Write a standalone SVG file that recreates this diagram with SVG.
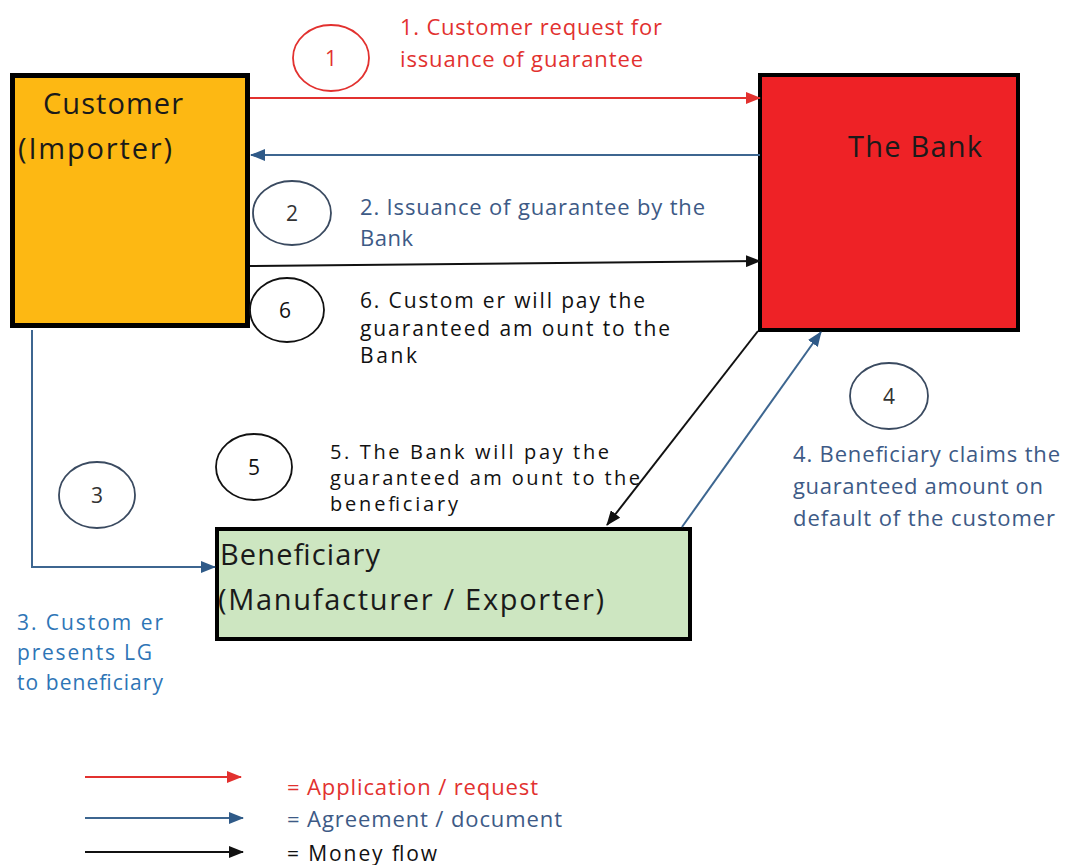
<svg xmlns="http://www.w3.org/2000/svg" width="1066" height="865" viewBox="0 0 1066 865">
<style>
text{font-family:"Open Sans","Liberation Sans",sans-serif;}
.red{fill:#E2312F;font-size:22px;}
.blue{fill:#3D5A86;font-size:22px;}
.lblue{fill:#2E75B6;font-size:21px;}
.blk{fill:#111;font-size:21px;}
.tight{font-size:20px;}
.num{font-size:21px;text-anchor:middle;}
.node{font-size:29px;fill:#1a1a1a;}
.rl{stroke:#E2312F;stroke-width:2;fill:none;}
.bl{stroke:#3D6690;stroke-width:2;fill:none;}
.kl{stroke:#111;stroke-width:2;fill:none;}
.circ{fill:none;stroke-width:1.8;}
</style>
<defs>
<marker id="ar" markerWidth="15" markerHeight="12" refX="14" refY="6" orient="auto" markerUnits="userSpaceOnUse"><path d="M0,0 L15,6 L0,12 Z" fill="#E2312F"/></marker>
<marker id="ab" markerWidth="15" markerHeight="12" refX="14" refY="6" orient="auto" markerUnits="userSpaceOnUse"><path d="M0,0 L15,6 L0,12 Z" fill="#2F5A88"/></marker>
<marker id="ak" markerWidth="15" markerHeight="12" refX="14" refY="6" orient="auto" markerUnits="userSpaceOnUse"><path d="M0,0 L15,6 L0,12 Z" fill="#111"/></marker>
</defs>
<rect width="1066" height="865" fill="#fff"/>

<g id="customer">
<rect x="12.5" y="75.5" width="235" height="250" fill="#FDB813" stroke="#000" stroke-width="5"/>
<text class="node" x="43" y="114" textLength="140">Customer</text>
<text class="node" x="18" y="159" textLength="154">(Importer)</text>
</g>

<g id="bank">
<rect x="760" y="75" width="258" height="255" fill="#EE2226" stroke="#000" stroke-width="4"/>
<text class="node" x="848" y="157" font-size="31" textLength="134">The Bank</text>
</g>

<g id="beneficiary">
<rect x="217" y="529" width="473" height="110" fill="#CDE6C1" stroke="#000" stroke-width="4"/>
<text class="node" x="220" y="565" textLength="160">Beneficiary</text>
<text class="node" x="218" y="610" textLength="386">(Manufacturer / Exporter)</text>
</g>

<g id="connectors">
<line class="rl" x1="250" y1="98" x2="760" y2="98" marker-end="url(#ar)"/>
<line class="bl" x1="760" y1="155" x2="251" y2="155" marker-end="url(#ab)"/>
<line class="kl" x1="250" y1="266" x2="760" y2="261" marker-end="url(#ak)"/>
<polyline class="bl" points="32,330 32,567 215,567" marker-end="url(#ab)"/>
<line class="kl" x1="758" y1="331" x2="607" y2="525" marker-end="url(#ak)"/>
<line class="bl" x1="682" y1="527" x2="821" y2="332" marker-end="url(#ab)"/>
</g>

<g id="step1">
<ellipse class="circ" cx="331" cy="58" rx="38" ry="33" stroke="#E2312F"/>
<text class="num red" x="331" y="66">1</text>
<text class="red" x="400" y="35" textLength="262">1. Customer request for</text>
<text class="red" x="400" y="67" textLength="243">issuance of guarantee</text>
</g>

<g id="step2">
<ellipse class="circ" cx="292" cy="213" rx="39" ry="32" stroke="#3A4A60"/>
<text class="num" x="292" y="221" fill="#333">2</text>
<text class="blue" x="360" y="215" textLength="345">2. Issuance of guarantee by the</text>
<text class="blue" x="360" y="246" textLength="53">Bank</text>
</g>

<g id="step6">
<ellipse class="circ" cx="287" cy="310" rx="37" ry="32" stroke="#111"/>
<text class="num" x="285" y="318" fill="#111">6</text>
<text class="blk" x="360" y="308" textLength="285">6. Custom er will pay the</text>
<text class="blk" x="360" y="336" textLength="310">guaranteed am ount to the</text>
<text class="blk" x="360" y="363" textLength="57">Bank</text>
</g>

<g id="step5">
<ellipse class="circ" cx="254" cy="467" rx="38" ry="33" stroke="#111"/>
<text class="num" x="254" y="475" fill="#111">5</text>
<text class="blk tight" x="330" y="459" textLength="279">5. The Bank will pay the</text>
<text class="blk tight" x="330" y="485" textLength="310">guaranteed am ount to the</text>
<text class="blk tight" x="330" y="511" textLength="128">beneficiary</text>
</g>

<g id="step4">
<ellipse class="circ" cx="889" cy="396" rx="39" ry="33" stroke="#3A4A60"/>
<text class="num" x="889" y="404" fill="#333">4</text>
<text class="blue" x="793" y="462" textLength="267">4. Beneficiary claims the</text>
<text class="blue" x="793" y="494" textLength="250">guaranteed amount on</text>
<text class="blue" x="793" y="526" textLength="262">default of the customer</text>
</g>

<g id="step3">
<ellipse class="circ" cx="97" cy="495" rx="38" ry="33" stroke="#3A4A60"/>
<text class="num" x="97" y="503" fill="#333">3</text>
<text class="lblue" x="17" y="630" textLength="146">3. Custom er</text>
<text class="lblue" x="17" y="660" textLength="135">presents LG</text>
<text class="lblue" x="17" y="690" textLength="146">to beneficiary</text>
</g>

<g id="legend">
<line class="rl" x1="85" y1="777" x2="241" y2="777" marker-end="url(#ar)"/>
<line class="bl" x1="85" y1="818" x2="243" y2="818" marker-end="url(#ab)"/>
<line class="kl" x1="85" y1="852" x2="243" y2="852" marker-end="url(#ak)"/>
<text class="red" x="287" y="795" textLength="251">= Application / request</text>
<text class="blue" x="287" y="827" textLength="275">= Agreement / document</text>
<text class="blk" x="287" y="861" textLength="150">= Money flow</text>
</g>
</svg>
